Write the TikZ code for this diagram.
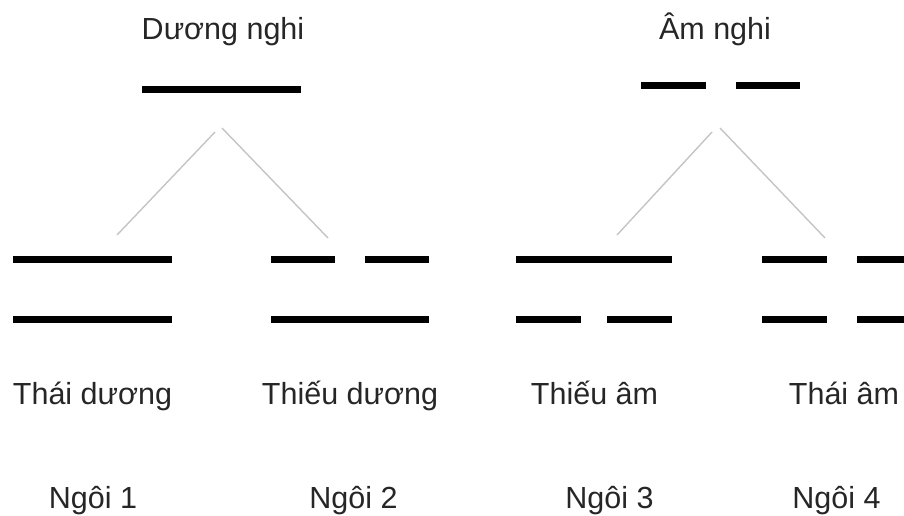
\documentclass[tikz,border=0pt]{standalone}
\usepackage{fontspec}
\setmainfont{Liberation Sans}
\definecolor{ink}{HTML}{262626}
\definecolor{linkgray}{HTML}{C4C4C4}
\begin{document}
\begin{tikzpicture}[x=1pt,y=-1pt,
  yao/.style={line width=6.6pt, line cap=butt, draw=black},
  link/.style={line width=1.4pt, draw=linkgray},
  lbl/.style={anchor=base, inner sep=0pt, font=\fontsize{30.5}{36}\selectfont, text=ink}]
\useasboundingbox (0,0) rectangle (904,515);

% titles of the two primary forms
\node[lbl] (duong) at (223,39) {Dương nghi};
\node[lbl] (am)    at (715,39) {Âm nghi};

% unbroken line (yang) and broken line (yin)
\draw[yao] (142,89.3) -- (301,89.3);
\draw[yao] (641,85.3) -- (706,85.3);
\draw[yao] (736,85.3) -- (800,85.3);

% branch points
\coordinate (dA1) at (215,132);
\coordinate (dA2) at (222,128);
\coordinate (aA1) at (712,132);
\coordinate (aA2) at (720,128);
\coordinate (t1) at (117,235);
\coordinate (t2) at (328,238);
\coordinate (t3) at (617,235);
\coordinate (t4) at (825,238);

\draw[link] (dA1) -- (t1);
\draw[link] (dA2) -- (t2);
\draw[link] (aA1) -- (t3);
\draw[link] (aA2) -- (t4);

% the four digrams, upper and lower lines
% Thái dương
\draw[yao] (13,259.3) -- (172,259.3);
\draw[yao] (13,319.5) -- (172,319.5);
% Thiếu dương
\draw[yao] (271,259.3) -- (335,259.3);
\draw[yao] (365,259.3) -- (429,259.3);
\draw[yao] (271,319.5) -- (429,319.5);
% Thiếu âm
\draw[yao] (516,259.3) -- (672,259.3);
\draw[yao] (516,319.5) -- (581,319.5);
\draw[yao] (607,319.5) -- (672,319.5);
% Thái âm
\draw[yao] (762,259.3) -- (827,259.3);
\draw[yao] (857,259.3) -- (922,259.3);
\draw[yao] (762,319.5) -- (827,319.5);
\draw[yao] (857,319.5) -- (922,319.5);

% names
\node[lbl] (n1) at (92.5,404) {Thái dương};
\node[lbl] (n2) at (350,404)  {Thiếu dương};
\node[lbl] (n3) at (594.5,404) {Thiếu âm};
\node[lbl] (n4) at (844,404)  {Thái âm};

% positions
\node[lbl] (p1) at (93,508)    {Ngôi 1};
\node[lbl] (p2) at (353.5,508) {Ngôi 2};
\node[lbl] (p3) at (609.5,508) {Ngôi 3};
\node[lbl] (p4) at (836.5,508) {Ngôi 4};
\end{tikzpicture}
\end{document}
